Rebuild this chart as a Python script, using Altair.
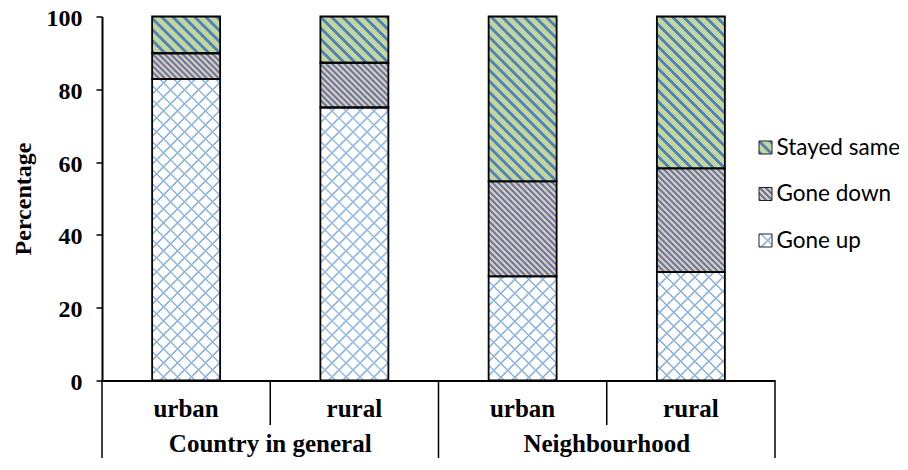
import math
import altair as alt
import pandas as pd

# ---- data ----
groups = ["Country in general", "Country in general", "Neighbourhood", "Neighbourhood"]
areas = ["urban", "rural", "urban", "rural"]
series = ["Gone up", "Gone down", "Stayed same"]
gone_up = [82.8, 75.0, 28.6, 29.8]
gone_down = [7.1, 12.3, 26.1, 28.5]
stayed_same = [10.1, 12.7, 45.3, 41.7]
y_ticks = [0, 20, 40, 60, 80, 100]
legend_order = ["Stayed same", "Gone down", "Gone up"]

# ---- layout / style ----
PLOT_W, PLOT_H = 673, 364
BAR_W = 68
SERIF = "Liberation Serif"
S2 = math.sqrt(2)

cats = [f"{g}|{a}" for g, a in zip(groups, areas)]
rows = []
for i, c in enumerate(cats):
    base = 0.0
    for s, vals in zip(series, [gone_up, gone_down, stayed_same]):
        v = vals[i]
        rows.append({"cat": c, "series": s, "value": v, "y0": base, "y1": base + v})
        base += v
df = pd.DataFrame(rows)

group_df = pd.DataFrame({"cat": [cats[0], cats[2]], "group": [groups[0], groups[2]]})
sep_df = pd.DataFrame({"cat": cats})
legend_df = pd.DataFrame({"series": legend_order})

# pattern definitions: list of (direction, [(color, horizontal width px), ...])
PATTERNS = {
    "Stayed same": [("\\", [("#4f81bd", 4.0), ("#c3d69b", 7.0)])],
    "Gone down": [("\\", [("#4f81bd", 3.0), ("#f4c6a2", 3.0)])],
    "Gone up": [
        ("/", [("#8db3e2", 2.3), ("#ffffff", 11.7)]),
        ("\\", [("#8db3e2", 2.3), ("rgba(255,255,255,0)", 11.7)]),
    ],
}
RAMP = 1.0  # horizontal px of soft transition between stripe colours


def stripe_gradient(W, H, direction, bands):
    """Linear gradient giving 45-degree stripes on a WxH box."""
    bands = [(c, w / S2) for c, w in bands]  # horizontal -> perpendicular widths
    ramp = RAMP / S2
    period = sum(w for _, w in bands)
    r = H / W
    k = (1 + r) / (1 + r * r)
    if direction == "\\":
        x1, y1, x2, y2 = 0, 1, k, 1 - k * r
    else:
        x1, y1, x2, y2 = 0, 0, k, k * r
    L = (W + H) / S2
    stops = []
    n = int(L // period) + 2
    for j in range(n):
        start = j * period
        for color, w in bands:
            a, b = (start + ramp / 2) / L, (start + w - ramp / 2) / L
            start += w
            if a >= 1:
                break
            stops.append({"offset": round(min(a, 1.0), 5), "color": color})
            stops.append({"offset": round(min(b, 1.0), 5), "color": color})
    return {"gradient": "linear", "x1": x1, "y1": y1, "x2": x2, "y2": y2, "stops": stops}


x_axis = alt.Axis(
    title=None, ticks=False, grid=False, domainColor="black", domainWidth=2,
    labelExpr="split(datum.label, '|')[1]", labelFont=SERIF, labelFontSize=25,
    labelFontWeight="bold", labelColor="black", labelPadding=28,
    labelBaseline="middle", labelAngle=0,
)
x_scale = alt.Scale(domain=cats, paddingInner=0, paddingOuter=0)


def xenc(bp=None):
    if bp is None:
        return alt.X("cat:N", sort=cats, scale=x_scale, axis=x_axis)
    return alt.X("cat:N", sort=cats, scale=x_scale, axis=x_axis, bandPosition=bp)


y_scale = alt.Scale(domain=[0, 100], nice=False)
y_axis = alt.Axis(
    values=y_ticks, grid=False, domainColor="black", domainWidth=2,
    tickColor="black", tickWidth=1.5, tickSize=6,
    labelFont=SERIF, labelFontSize=24, labelFontWeight="bold", labelColor="black",
    labelPadding=14, labelOffset=2,
    title="Percentage", titleFont=SERIF, titleFontSize=24, titleFontWeight="bold",
    titleColor="black", titleAngle=270, titleX=-79, titleY=PLOT_H / 2,
    titleAlign="center", titleBaseline="middle",
)

base = alt.Chart(df)
layers = []

# patterned bar segments
for _, row in df.iterrows():
    H = row["value"] * PLOT_H / 100.0
    for direction, bands in PATTERNS[row["series"]]:
        grad = stripe_gradient(BAR_W, H, direction, bands)
        layers.append(
            base.transform_filter(
                (alt.datum.cat == row["cat"]) & (alt.datum.series == row["series"])
            )
            .mark_bar(size=BAR_W, fill=grad, strokeWidth=0)
            .encode(x=xenc(), y=alt.Y("y0:Q", scale=y_scale, axis=None), y2="y1:Q")
        )

# outlines + y axis
layers.append(
    base.mark_bar(size=BAR_W, fillOpacity=0, stroke="black", strokeWidth=1.8)
    .encode(x=xenc(), y=alt.Y("y0:Q", scale=y_scale, axis=y_axis), y2="y1:Q")
)

# hierarchical x-axis separators
long_bottom = PLOT_H + 90
short_bottom = 408.5
sep = alt.Chart(sep_df)
layers.append(
    sep.transform_filter(alt.FieldOneOfPredicate(field="cat", oneOf=[cats[0], cats[2]]))
    .mark_rule(color="black", strokeWidth=1.5)
    .encode(x=xenc(0), y=alt.value(PLOT_H), y2=alt.value(long_bottom))
)
layers.append(
    sep.transform_filter(alt.FieldOneOfPredicate(field="cat", oneOf=[cats[3]]))
    .mark_rule(color="black", strokeWidth=1.5)
    .encode(x=xenc(1), y=alt.value(PLOT_H), y2=alt.value(long_bottom))
)
layers.append(
    sep.transform_filter(alt.FieldOneOfPredicate(field="cat", oneOf=[cats[0], cats[2]]))
    .mark_rule(color="black", strokeWidth=1.5)
    .encode(x=xenc(1), y=alt.value(PLOT_H), y2=alt.value(short_bottom))
)

# group labels
layers.append(
    alt.Chart(group_df)
    .mark_text(font=SERIF, fontSize=25, fontWeight="bold", color="black", baseline="middle")
    .encode(x=xenc(1), y=alt.value(427.5), text="group:N")
)

# legend
LEG = 13
leg_y = alt.Y(
    "series:N",
    scale=alt.Scale(type="point", domain=legend_order, range=[131, 224], padding=0),
    axis=None,
)
leg = alt.Chart(legend_df)
for s in legend_order:
    for direction, bands in PATTERNS[s]:
        layers.append(
            leg.transform_filter(alt.datum.series == s)
            .mark_square(size=LEG * LEG, fill=stripe_gradient(LEG, LEG, direction, bands),
                         strokeWidth=0, opacity=1)
            .encode(x=alt.value(663.5), y=leg_y)
        )
layers.append(
    leg.mark_square(size=LEG * LEG, fillOpacity=0, stroke="#222222", strokeWidth=1, opacity=1)
    .encode(x=alt.value(663.5), y=leg_y)
)
layers.append(
    leg.mark_text(align="left", baseline="middle", font="Lato", fontSize=22.5, color="black")
    .encode(x=alt.value(674.5), y=leg_y, text="series:N")
)

chart = (
    alt.layer(*layers)
    .resolve_scale(y="independent")
    .properties(
        width=PLOT_W,
        height=PLOT_H,
        autosize=alt.AutoSizeParams(type="none"),
        padding={"left": 94, "top": 8.5, "right": 124, "bottom": 77},
    )
    .configure_view(strokeWidth=0)
)

chart.save("out.html", embed_options={"renderer": "svg", "actions": False})
